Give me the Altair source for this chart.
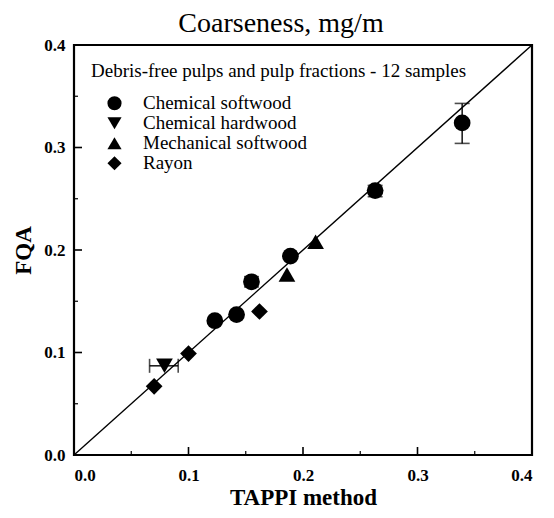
import altair as alt
import pandas as pd

groups = ["Chemical softwood", "Chemical hardwood", "Mechanical softwood", "Rayon"]
shapes = ["circle", "triangle-down", "triangle-up", "diamond"]

cs_x = [0.123, 0.142, 0.155, 0.189, 0.263, 0.339]
cs_y = [0.131, 0.137, 0.169, 0.194, 0.258, 0.324]
ch_x = [0.079]
ch_y = [0.087]
ms_x = [0.186, 0.211]
ms_y = [0.176, 0.208]
ra_x = [0.070, 0.100, 0.162]
ra_y = [0.067, 0.099, 0.140]

# vertical error bars
ey_x = [0.339, 0.263, 0.155]
ey_lo = [0.304, 0.252, 0.164]
ey_hi = [0.343, 0.263, 0.174]
# horizontal error bars
ex_y = [0.087]
ex_lo = [0.066]
ex_hi = [0.091]

diag = [0.0, 0.4]
major_ticks = [0.1, 0.2, 0.3]
minor_ticks = [0.05, 0.15, 0.25, 0.35]
tick_labels = [0.0, 0.1, 0.2, 0.3, 0.4]

W, H = 458, 410

rows = []
for g, xs_, ys_ in zip(groups, [cs_x, ch_x, ms_x, ra_x], [cs_y, ch_y, ms_y, ra_y]):
    for a, b in zip(xs_, ys_):
        rows.append({"x": a, "y": b, "group": g})
pts = pd.DataFrame(rows)

ey = pd.DataFrame({"x": ey_x, "lo": ey_lo, "hi": ey_hi})
ex = pd.DataFrame({"y": ex_y, "lo": ex_lo, "hi": ex_hi})
dg = pd.DataFrame({"x": diag, "y": diag})
mj = pd.DataFrame({"v": major_ticks})
mn = pd.DataFrame({"v": minor_ticks})

font = "Liberation Serif"
xs = alt.Scale(domain=[0, 0.4], nice=False)
ys = alt.Scale(domain=[0, 0.4], nice=False)
xax = alt.Axis(values=tick_labels, format=".1f", ticks=False, domain=False, grid=False,
               labelFont=font, labelFontSize=17, labelFontWeight="bold", labelColor="black",
               labelPadding=12, title="TAPPI method", titleFont=font, titleFontSize=23,
               titleFontWeight="bold", titleColor="black", titlePadding=3)
yax = alt.Axis(values=tick_labels, format=".1f", ticks=False, domain=False, grid=False,
               labelFont=font, labelFontSize=17, labelFontWeight="bold", labelColor="black",
               labelPadding=9, title="FQA", titleFont=font, titleFontSize=23,
               titleFontWeight="bold", titleColor="black", titlePadding=8)

line = alt.Chart(dg).mark_line(color="black", strokeWidth=1.4).encode(
    x=alt.X("x:Q", scale=xs, axis=xax), y=alt.Y("y:Q", scale=ys, axis=yax))

ebar_v = alt.Chart(ey).mark_rule(color="black", strokeWidth=1.4).encode(
    x="x:Q", y="lo:Q", y2="hi:Q")
cap_lo = alt.Chart(ey).mark_tick(color="black", thickness=1.6, size=15, orient="horizontal").encode(
    x="x:Q", y="lo:Q")
cap_hi = alt.Chart(ey).mark_tick(color="black", thickness=1.6, size=15, orient="horizontal").encode(
    x="x:Q", y="hi:Q")
ebar_h = alt.Chart(ex).mark_rule(color="black", strokeWidth=1.4).encode(
    y="y:Q", x="lo:Q", x2="hi:Q")
capx_lo = alt.Chart(ex).mark_tick(color="black", thickness=1.6, size=14, orient="vertical").encode(
    y="y:Q", x="lo:Q")
capx_hi = alt.Chart(ex).mark_tick(color="black", thickness=1.6, size=14, orient="vertical").encode(
    y="y:Q", x="hi:Q")

points = alt.Chart(pts).mark_point(filled=True, color="black", opacity=1, size=280).encode(
    x="x:Q", y="y:Q",
    shape=alt.Shape("group:N", scale=alt.Scale(domain=groups, range=shapes),
                    sort=groups,
                    legend=alt.Legend(title="Debris-free pulps and pulp fractions - 12 samples",
                                      orient="none", legendX=17, legendY=17,
                                      titleFont=font, titleFontSize=19, titleFontWeight="normal",
                                      titleColor="black", titleLimit=600, titlePadding=13,
                                      labelFont=font, labelFontSize=19, labelColor="black",
                                      labelOffset=19, symbolOffset=14, symbolSize=200,
                                      symbolFillColor="black", symbolStrokeColor="black",
                                      symbolOpacity=1, rowPadding=0, clipHeight=18.5,
                                      labelLimit=400)))

xt_major = alt.Chart(mj).mark_rule(color="black", strokeWidth=1.6).encode(
    x="v:Q", y=alt.value(H), y2=alt.value(H - 8))
xt_minor = alt.Chart(mn).mark_rule(color="black", strokeWidth=1.2).encode(
    x="v:Q", y=alt.value(H), y2=alt.value(H - 4))
yt_major = alt.Chart(mj).mark_rule(color="black", strokeWidth=1.6).encode(
    y="v:Q", x=alt.value(0), x2=alt.value(8))
yt_minor = alt.Chart(mn).mark_rule(color="black", strokeWidth=1.2).encode(
    y="v:Q", x=alt.value(0), x2=alt.value(4))

chart = alt.layer(line, xt_major, xt_minor, yt_major, yt_minor,
                  ebar_v, cap_lo, cap_hi, ebar_h, capx_lo, capx_hi, points).properties(
    width=W, height=H,
    title=alt.Title("Coarseness, mg/m", font=font, fontSize=28, fontWeight="normal",
                    color="black", offset=0, dx=-22, dy=2),
    autosize=alt.AutoSizeParams(type="none"),
    padding={"left": 66, "top": 37, "right": 14, "bottom": 55},
    background="white",
).configure_view(stroke="black", strokeWidth=2.2)

chart.save("out.html", embed_options={"renderer": "svg", "actions": False})
